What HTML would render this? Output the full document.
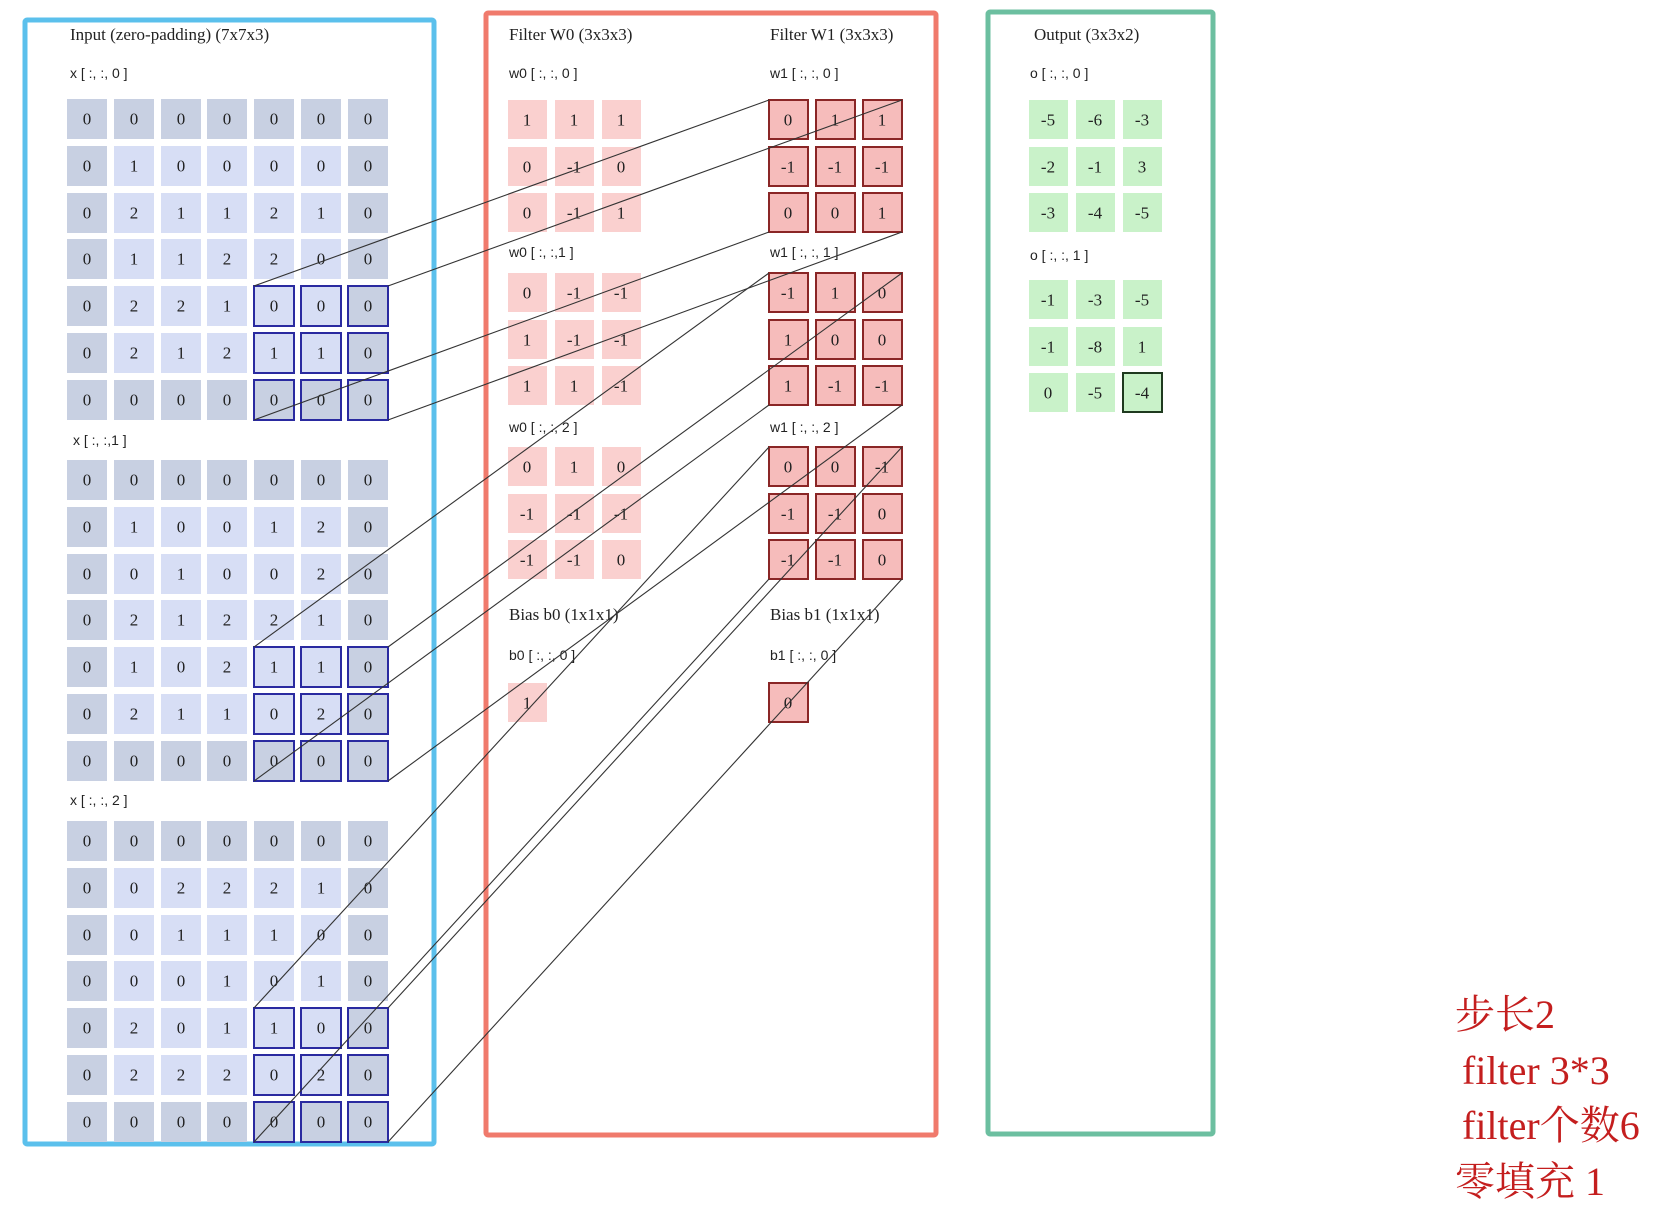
<!DOCTYPE html>
<html><head><meta charset="utf-8"><style>
html,body{margin:0;padding:0;background:#fff;}
svg{display:block}
.t{font-family:"Liberation Serif",serif;font-size:17px;fill:#222;text-anchor:middle;dominant-baseline:central}
.h{font-family:"Liberation Serif",serif;font-size:17px;fill:#222}
.s{font-family:"Liberation Sans",sans-serif;font-size:14px;fill:#222}
.r{font-family:"Liberation Serif","Noto Serif CJK SC",serif;font-size:40px;fill:#c41e1e}
</style></head><body>
<svg width="1677" height="1220" viewBox="0 0 1677 1220" xmlns="http://www.w3.org/2000/svg">
<defs>
<g id="dummy"></g>
</defs>
<!-- frames -->
<rect x="25" y="20" width="409" height="1124" fill="none" stroke="#5bc0ec" stroke-width="5" rx="2"/>
<rect x="486" y="13" width="450" height="1122" fill="none" stroke="#f07a6c" stroke-width="5" rx="2"/>
<rect x="988" y="12" width="225" height="1122" fill="none" stroke="#6cbfa0" stroke-width="5" rx="2"/>

<!-- labels -->
<text class="h" x="70" y="40">Input (zero-padding)  (7x7x3)</text>
<text class="s" x="70" y="78">x [ :, :, 0 ]</text>
<text class="s" x="73" y="445">x [ :, :,1 ]</text>
<text class="s" x="70" y="805">x [ :, :, 2 ]</text>
<text class="h" x="509" y="40">Filter W0  (3x3x3)</text>
<text class="h" x="770" y="40">Filter W1  (3x3x3)</text>
<text class="s" x="509" y="78">w0 [ :, :, 0 ]</text>
<text class="s" x="509" y="257">w0 [ :, :,1 ]</text>
<text class="s" x="509" y="432">w0 [ :, :, 2 ]</text>
<text class="s" x="770" y="78">w1 [ :, :, 0 ]</text>
<text class="s" x="770" y="257">w1 [ :, :, 1 ]</text>
<text class="s" x="770" y="432">w1 [ :, :, 2 ]</text>
<text class="h" x="509" y="620">Bias b0  (1x1x1)</text>
<text class="h" x="770" y="620">Bias b1  (1x1x1)</text>
<text class="s" x="509" y="660">b0 [ :, :, 0 ]</text>
<text class="s" x="770" y="660">b1 [ :, :, 0 ]</text>
<text class="h" x="1034" y="40">Output  (3x3x2)</text>
<text class="s" x="1030" y="78">o [ :, :, 0 ]</text>
<text class="s" x="1030" y="260">o [ :, :, 1 ]</text>

<!-- input cells: padding cells darker -->
<g id="inp">
<!-- section 0 -->
<g fill="#c8d0e2">
<rect x="67" y="99" width="40" height="40"/><rect x="114" y="99" width="40" height="40"/><rect x="161" y="99" width="40" height="40"/><rect x="207" y="99" width="40" height="40"/><rect x="254" y="99" width="40" height="40"/><rect x="301" y="99" width="40" height="40"/><rect x="348" y="99" width="40" height="40"/>
<rect x="67" y="146" width="40" height="40"/><rect x="67" y="193" width="40" height="40"/><rect x="67" y="239" width="40" height="40"/><rect x="67" y="286" width="40" height="40"/><rect x="67" y="333" width="40" height="40"/><rect x="67" y="380" width="40" height="40"/>
<rect x="348" y="146" width="40" height="40"/><rect x="348" y="193" width="40" height="40"/><rect x="348" y="239" width="40" height="40"/><rect x="348" y="286" width="40" height="40"/><rect x="348" y="333" width="40" height="40"/><rect x="348" y="380" width="40" height="40"/>
<rect x="114" y="380" width="40" height="40"/><rect x="161" y="380" width="40" height="40"/><rect x="207" y="380" width="40" height="40"/><rect x="254" y="380" width="40" height="40"/><rect x="301" y="380" width="40" height="40"/>
</g>
<g fill="#d7def5">
<rect x="114" y="146" width="40" height="40"/><rect x="161" y="146" width="40" height="40"/><rect x="207" y="146" width="40" height="40"/><rect x="254" y="146" width="40" height="40"/><rect x="301" y="146" width="40" height="40"/>
<rect x="114" y="193" width="40" height="40"/><rect x="161" y="193" width="40" height="40"/><rect x="207" y="193" width="40" height="40"/><rect x="254" y="193" width="40" height="40"/><rect x="301" y="193" width="40" height="40"/>
<rect x="114" y="239" width="40" height="40"/><rect x="161" y="239" width="40" height="40"/><rect x="207" y="239" width="40" height="40"/><rect x="254" y="239" width="40" height="40"/><rect x="301" y="239" width="40" height="40"/>
<rect x="114" y="286" width="40" height="40"/><rect x="161" y="286" width="40" height="40"/><rect x="207" y="286" width="40" height="40"/><rect x="254" y="286" width="40" height="40"/><rect x="301" y="286" width="40" height="40"/>
<rect x="114" y="333" width="40" height="40"/><rect x="161" y="333" width="40" height="40"/><rect x="207" y="333" width="40" height="40"/><rect x="254" y="333" width="40" height="40"/><rect x="301" y="333" width="40" height="40"/>
</g>
</g>
<use href="#inp" y="361"/>
<use href="#inp" y="722"/>

<!-- highlight boxes input -->
<g fill="none" stroke="#2a2aa0" stroke-width="2">
<rect x="254" y="286" width="40" height="40"/><rect x="301" y="286" width="40" height="40"/><rect x="348" y="286" width="40" height="40"/>
<rect x="254" y="333" width="40" height="40"/><rect x="301" y="333" width="40" height="40"/><rect x="348" y="333" width="40" height="40"/>
<rect x="254" y="380" width="40" height="40"/><rect x="301" y="380" width="40" height="40"/><rect x="348" y="380" width="40" height="40"/>
<rect x="254" y="647" width="40" height="40"/><rect x="301" y="647" width="40" height="40"/><rect x="348" y="647" width="40" height="40"/>
<rect x="254" y="694" width="40" height="40"/><rect x="301" y="694" width="40" height="40"/><rect x="348" y="694" width="40" height="40"/>
<rect x="254" y="741" width="40" height="40"/><rect x="301" y="741" width="40" height="40"/><rect x="348" y="741" width="40" height="40"/>
<rect x="254" y="1008" width="40" height="40"/><rect x="301" y="1008" width="40" height="40"/><rect x="348" y="1008" width="40" height="40"/>
<rect x="254" y="1055" width="40" height="40"/><rect x="301" y="1055" width="40" height="40"/><rect x="348" y="1055" width="40" height="40"/>
<rect x="254" y="1102" width="40" height="40"/><rect x="301" y="1102" width="40" height="40"/><rect x="348" y="1102" width="40" height="40"/>
</g>

<!-- input values x0 -->
<g class="t">
<text x="87" y="119">0</text><text x="134" y="119">0</text><text x="181" y="119">0</text><text x="227" y="119">0</text><text x="274" y="119">0</text><text x="321" y="119">0</text><text x="368" y="119">0</text>
<text x="87" y="166">0</text><text x="134" y="166">1</text><text x="181" y="166">0</text><text x="227" y="166">0</text><text x="274" y="166">0</text><text x="321" y="166">0</text><text x="368" y="166">0</text>
<text x="87" y="213">0</text><text x="134" y="213">2</text><text x="181" y="213">1</text><text x="227" y="213">1</text><text x="274" y="213">2</text><text x="321" y="213">1</text><text x="368" y="213">0</text>
<text x="87" y="259">0</text><text x="134" y="259">1</text><text x="181" y="259">1</text><text x="227" y="259">2</text><text x="274" y="259">2</text><text x="321" y="259">0</text><text x="368" y="259">0</text>
<text x="87" y="306">0</text><text x="134" y="306">2</text><text x="181" y="306">2</text><text x="227" y="306">1</text><text x="274" y="306">0</text><text x="321" y="306">0</text><text x="368" y="306">0</text>
<text x="87" y="353">0</text><text x="134" y="353">2</text><text x="181" y="353">1</text><text x="227" y="353">2</text><text x="274" y="353">1</text><text x="321" y="353">1</text><text x="368" y="353">0</text>
<text x="87" y="400">0</text><text x="134" y="400">0</text><text x="181" y="400">0</text><text x="227" y="400">0</text><text x="274" y="400">0</text><text x="321" y="400">0</text><text x="368" y="400">0</text>
<!-- x1 -->
<text x="87" y="480">0</text><text x="134" y="480">0</text><text x="181" y="480">0</text><text x="227" y="480">0</text><text x="274" y="480">0</text><text x="321" y="480">0</text><text x="368" y="480">0</text>
<text x="87" y="527">0</text><text x="134" y="527">1</text><text x="181" y="527">0</text><text x="227" y="527">0</text><text x="274" y="527">1</text><text x="321" y="527">2</text><text x="368" y="527">0</text>
<text x="87" y="574">0</text><text x="134" y="574">0</text><text x="181" y="574">1</text><text x="227" y="574">0</text><text x="274" y="574">0</text><text x="321" y="574">2</text><text x="368" y="574">0</text>
<text x="87" y="620">0</text><text x="134" y="620">2</text><text x="181" y="620">1</text><text x="227" y="620">2</text><text x="274" y="620">2</text><text x="321" y="620">1</text><text x="368" y="620">0</text>
<text x="87" y="667">0</text><text x="134" y="667">1</text><text x="181" y="667">0</text><text x="227" y="667">2</text><text x="274" y="667">1</text><text x="321" y="667">1</text><text x="368" y="667">0</text>
<text x="87" y="714">0</text><text x="134" y="714">2</text><text x="181" y="714">1</text><text x="227" y="714">1</text><text x="274" y="714">0</text><text x="321" y="714">2</text><text x="368" y="714">0</text>
<text x="87" y="761">0</text><text x="134" y="761">0</text><text x="181" y="761">0</text><text x="227" y="761">0</text><text x="274" y="761">0</text><text x="321" y="761">0</text><text x="368" y="761">0</text>
<!-- x2 -->
<text x="87" y="841">0</text><text x="134" y="841">0</text><text x="181" y="841">0</text><text x="227" y="841">0</text><text x="274" y="841">0</text><text x="321" y="841">0</text><text x="368" y="841">0</text>
<text x="87" y="888">0</text><text x="134" y="888">0</text><text x="181" y="888">2</text><text x="227" y="888">2</text><text x="274" y="888">2</text><text x="321" y="888">1</text><text x="368" y="888">0</text>
<text x="87" y="935">0</text><text x="134" y="935">0</text><text x="181" y="935">1</text><text x="227" y="935">1</text><text x="274" y="935">1</text><text x="321" y="935">0</text><text x="368" y="935">0</text>
<text x="87" y="981">0</text><text x="134" y="981">0</text><text x="181" y="981">0</text><text x="227" y="981">1</text><text x="274" y="981">0</text><text x="321" y="981">1</text><text x="368" y="981">0</text>
<text x="87" y="1028">0</text><text x="134" y="1028">2</text><text x="181" y="1028">0</text><text x="227" y="1028">1</text><text x="274" y="1028">1</text><text x="321" y="1028">0</text><text x="368" y="1028">0</text>
<text x="87" y="1075">0</text><text x="134" y="1075">2</text><text x="181" y="1075">2</text><text x="227" y="1075">2</text><text x="274" y="1075">0</text><text x="321" y="1075">2</text><text x="368" y="1075">0</text>
<text x="87" y="1122">0</text><text x="134" y="1122">0</text><text x="181" y="1122">0</text><text x="227" y="1122">0</text><text x="274" y="1122">0</text><text x="321" y="1122">0</text><text x="368" y="1122">0</text>
</g>

<!-- W0 cells -->
<g id="w3" fill="#fad0cf">
<rect x="508" y="100" width="39" height="39"/><rect x="555" y="100" width="39" height="39"/><rect x="602" y="100" width="39" height="39"/>
<rect x="508" y="147" width="39" height="39"/><rect x="555" y="147" width="39" height="39"/><rect x="602" y="147" width="39" height="39"/>
<rect x="508" y="193" width="39" height="39"/><rect x="555" y="193" width="39" height="39"/><rect x="602" y="193" width="39" height="39"/>
</g>
<use href="#w3" y="173"/>
<use href="#w3" y="347"/>
<rect x="508" y="683" width="39" height="39" fill="#fad0cf"/>

<!-- W1 cells -->
<g id="w1b" fill="#f6bcbb" stroke="#8a2626" stroke-width="2">
<rect x="769" y="100" width="39" height="39"/><rect x="816" y="100" width="39" height="39"/><rect x="863" y="100" width="39" height="39"/>
<rect x="769" y="147" width="39" height="39"/><rect x="816" y="147" width="39" height="39"/><rect x="863" y="147" width="39" height="39"/>
<rect x="769" y="193" width="39" height="39"/><rect x="816" y="193" width="39" height="39"/><rect x="863" y="193" width="39" height="39"/>
</g>
<use href="#w1b" y="173"/>
<use href="#w1b" y="347"/>
<rect x="769" y="683" width="39" height="39" fill="#f6bcbb" stroke="#8a2626" stroke-width="2"/>

<!-- output cells -->
<g id="oc" fill="#c9f2c9">
<rect x="1029" y="100" width="39" height="39"/><rect x="1076" y="100" width="39" height="39"/><rect x="1123" y="100" width="39" height="39"/>
<rect x="1029" y="147" width="39" height="39"/><rect x="1076" y="147" width="39" height="39"/><rect x="1123" y="147" width="39" height="39"/>
<rect x="1029" y="193" width="39" height="39"/><rect x="1076" y="193" width="39" height="39"/><rect x="1123" y="193" width="39" height="39"/>
</g>
<use href="#oc" y="180"/>
<rect x="1123" y="373" width="39" height="39" fill="none" stroke="#1f3a1f" stroke-width="2"/>

<g class="t">
<!-- w0 -->
<text x="527" y="120">1</text><text x="574" y="120">1</text><text x="621" y="120">1</text>
<text x="527" y="167">0</text><text x="574" y="167">-1</text><text x="621" y="167">0</text>
<text x="527" y="213">0</text><text x="574" y="213">-1</text><text x="621" y="213">1</text>
<text x="527" y="293">0</text><text x="574" y="293">-1</text><text x="621" y="293">-1</text>
<text x="527" y="340">1</text><text x="574" y="340">-1</text><text x="621" y="340">-1</text>
<text x="527" y="386">1</text><text x="574" y="386">1</text><text x="621" y="386">-1</text>
<text x="527" y="467">0</text><text x="574" y="467">1</text><text x="621" y="467">0</text>
<text x="527" y="514">-1</text><text x="574" y="514">-1</text><text x="621" y="514">-1</text>
<text x="527" y="560">-1</text><text x="574" y="560">-1</text><text x="621" y="560">0</text>
<text x="527" y="703">1</text>
<!-- w1 -->
<text x="788" y="120">0</text><text x="835" y="120">1</text><text x="882" y="120">1</text>
<text x="788" y="167">-1</text><text x="835" y="167">-1</text><text x="882" y="167">-1</text>
<text x="788" y="213">0</text><text x="835" y="213">0</text><text x="882" y="213">1</text>
<text x="788" y="293">-1</text><text x="835" y="293">1</text><text x="882" y="293">0</text>
<text x="788" y="340">1</text><text x="835" y="340">0</text><text x="882" y="340">0</text>
<text x="788" y="386">1</text><text x="835" y="386">-1</text><text x="882" y="386">-1</text>
<text x="788" y="467">0</text><text x="835" y="467">0</text><text x="882" y="467">-1</text>
<text x="788" y="514">-1</text><text x="835" y="514">-1</text><text x="882" y="514">0</text>
<text x="788" y="560">-1</text><text x="835" y="560">-1</text><text x="882" y="560">0</text>
<text x="788" y="703">0</text>
<!-- output -->
<text x="1048" y="120">-5</text><text x="1095" y="120">-6</text><text x="1142" y="120">-3</text>
<text x="1048" y="167">-2</text><text x="1095" y="167">-1</text><text x="1142" y="167">3</text>
<text x="1048" y="213">-3</text><text x="1095" y="213">-4</text><text x="1142" y="213">-5</text>
<text x="1048" y="300">-1</text><text x="1095" y="300">-3</text><text x="1142" y="300">-5</text>
<text x="1048" y="347">-1</text><text x="1095" y="347">-8</text><text x="1142" y="347">1</text>
<text x="1048" y="393">0</text><text x="1095" y="393">-5</text><text x="1142" y="393">-4</text>
</g>

<!-- connector lines -->
<g stroke="#333" stroke-width="1.1" fill="none">
<line x1="254" y1="286" x2="769" y2="100"/><line x1="388" y1="286" x2="902" y2="100"/>
<line x1="254" y1="420" x2="769" y2="232"/><line x1="388" y1="420" x2="902" y2="232"/>
<line x1="254" y1="647" x2="769" y2="273"/><line x1="388" y1="647" x2="902" y2="273"/>
<line x1="254" y1="781" x2="769" y2="405"/><line x1="388" y1="781" x2="902" y2="405"/>
<line x1="254" y1="1008" x2="769" y2="447"/><line x1="388" y1="1008" x2="902" y2="447"/>
<line x1="254" y1="1142" x2="769" y2="579"/><line x1="388" y1="1142" x2="902" y2="579"/>
</g>

<!-- notes -->
<text class="r" x="1455" y="1028">步长2</text>
<text class="r" x="1462" y="1084">filter 3*3</text>
<text class="r" x="1462" y="1139">filter个数6</text>
<text class="r" x="1455" y="1195">零填充 1</text>
</svg>
</body></html>
